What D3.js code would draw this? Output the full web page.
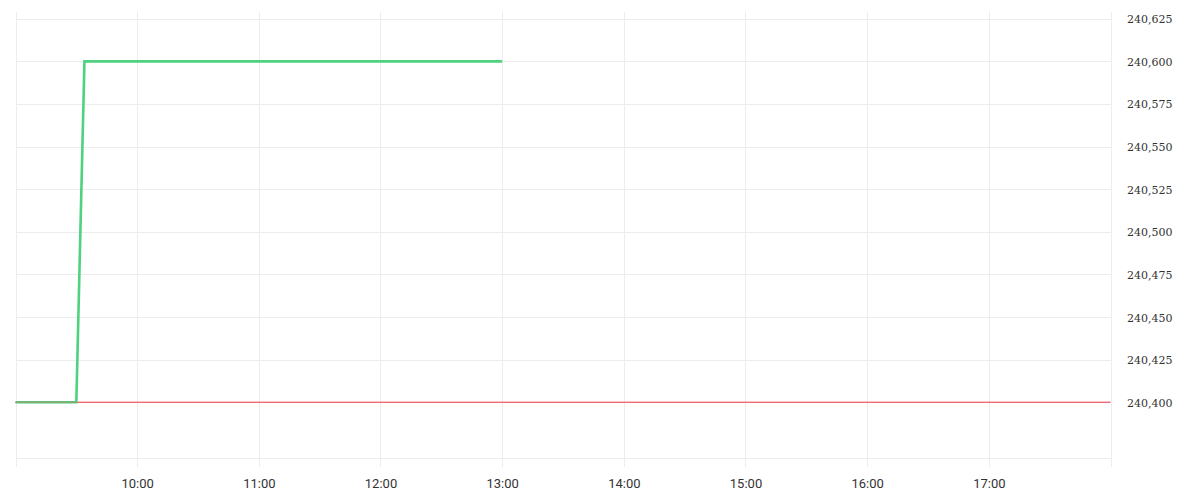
<!DOCTYPE html>
<html>
<head>
<meta charset="utf-8">
<script src="https://cdn.jsdelivr.net/npm/d3@7"></script>
<style>
  html, body { margin: 0; padding: 0; background: #fff; }
  svg { display: block; }
</style>
</head>
<body>
<svg id="chart" width="1200" height="500"></svg>
<script>
// ---- data ----
const seriesTimes = ["09:00", "09:30", "09:34", "13:00"];
const seriesValues = [240400, 240400, 240600, 240600];
const referenceValue = 240400;
const xDomain = ["09:00", "18:00"];
const yDomain = [240367, 240629];
const yTickValues = [240400, 240425, 240450, 240475, 240500, 240525, 240550, 240575, 240600, 240625];
const xTickLabels = ["10:00", "11:00", "12:00", "13:00", "14:00", "15:00", "16:00", "17:00"];
const xGridTimes = ["09:00", "10:00", "11:00", "12:00", "13:00", "14:00", "15:00", "16:00", "17:00", "18:00"];

(function () {
// ---- layout ----
const pLeft = 15.5, pRight = 1110.5, pTop = 12, pBottom = 458.5, tickBottom = 467;
const parse = d3.timeParse("%H:%M");
const svg = d3.select("#chart");

const x = d3.scaleTime().domain(xDomain.map(parse)).range([pLeft, pRight]);
const y = d3.scaleLinear().domain(yDomain).range([pBottom, pTop]);

const grid = svg.append("g");
// horizontal grid lines
grid.selectAll("line.h").data(yTickValues).enter().append("line")
  .attr("x1", pLeft).attr("x2", pRight)
  .attr("y1", d => Math.round(y(d)) + 0.5).attr("y2", d => Math.round(y(d)) + 0.5)
  .attr("stroke", "#ececec").attr("stroke-width", 1);
// bottom line
grid.append("line")
  .attr("x1", pLeft).attr("x2", pRight).attr("y1", pBottom).attr("y2", pBottom)
  .attr("stroke", "#ececec");
// vertical grid lines
grid.selectAll("line.v").data(xGridTimes.map(parse)).enter().append("line")
  .attr("x1", d => Math.round(x(d)) + 0.5).attr("x2", d => Math.round(x(d)) + 0.5)
  .attr("y1", pTop).attr("y2", tickBottom)
  .attr("stroke", "#ececec").attr("stroke-width", 1);

// x axis labels
const xAxis = d3.axisBottom(x)
  .tickValues(xTickLabels.map(parse))
  .tickFormat(d3.timeFormat("%H:%M"))
  .tickSize(0).tickPadding(0);
const gx = svg.append("g").attr("transform", `translate(0, ${pBottom})`).call(xAxis);
gx.select(".domain").remove();
gx.selectAll("text")
  .attr("y", 29).attr("dy", 0)
  .attr("font-family", "Roboto, sans-serif").attr("font-size", 13).attr("fill", "#333");

// y axis labels
const yAxis = d3.axisRight(y)
  .tickValues(yTickValues)
  .tickFormat(d3.format(","))
  .tickSize(0).tickPadding(0);
const gy = svg.append("g").attr("transform", `translate(${1127}, 0)`).call(yAxis);
gy.select(".domain").remove();
gy.selectAll("text")
  .attr("x", 0).attr("dy", "0.36em")
  .attr("font-family", "'DejaVu Serif', serif").attr("font-size", 11).attr("fill", "#333");

// reference line (under)
svg.append("line")
  .attr("x1", pLeft).attr("x2", pRight)
  .attr("y1", y(referenceValue)).attr("y2", y(referenceValue))
  .attr("stroke", "#f2545f").attr("stroke-width", 1.2);

// series line
const pts = seriesTimes.map((t, i) => [parse(t), seriesValues[i]]);
const line = d3.line().x(d => x(d[0])).y(d => y(d[1]));
svg.append("path")
  .datum(pts)
  .attr("d", line)
  .attr("fill", "none")
  .attr("stroke", "#4ed27f")
  .attr("stroke-width", 2.6)
  .attr("stroke-linejoin", "miter");

// reference line on top, thin
svg.append("line")
  .attr("x1", pLeft).attr("x2", pRight)
  .attr("y1", y(referenceValue)).attr("y2", y(referenceValue))
  .attr("stroke", "#f2545f").attr("stroke-width", 0.8).attr("opacity", 0.6);
})();
</script>
</body>
</html>
